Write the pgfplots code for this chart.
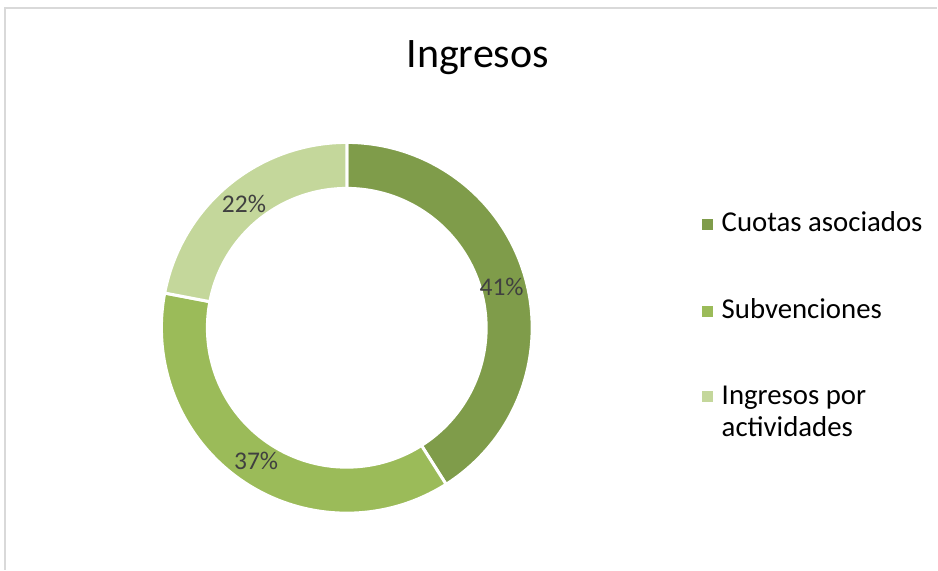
\documentclass[border=0pt]{standalone}
\usepackage{pgfplots}
\pgfplotsset{compat=1.18}
\usepackage{fontspec}
\setmainfont{Carlito}
\definecolor{cA}{HTML}{7F9C4A}
\definecolor{cB}{HTML}{9BBB59}
\definecolor{cC}{HTML}{C4D79B}
\definecolor{lbl}{HTML}{404040}
\definecolor{framec}{HTML}{D9D9D9}
% data (percent)
\def\vA{41}\def\vB{37}\def\vC{22}
\pgfmathsetmacro\aA{90}
\pgfmathsetmacro\aB{90-3.6*\vA}
\pgfmathsetmacro\aC{\aB-3.6*\vB}
\pgfmathsetmacro\aD{\aC-3.6*\vC}
\pgfmathsetmacro\mA{(\aA+\aB)/2}
\pgfmathsetmacro\mB{(\aB+\aC)/2}
\pgfmathsetmacro\mC{(\aC+\aD)/2}
\begin{document}
\begin{tikzpicture}
\path (0bp,0bp) rectangle (938bp,570bp);
\draw[framec, line width=1.2bp] (5bp,0bp) -- (5bp,562bp) -- (938bp,562bp);
\begin{axis}[at={(347bp,242bp)}, anchor=center, scale only axis,
  width=371bp, height=371bp, xmin=-1, xmax=1, ymin=-1, ymax=1,
  hide axis, clip=false]
\addplot[fill=cA, draw=white, line width=3bp, domain=\aB:\aA, samples=90, variable=\t] ({cos(\t)},{sin(\t)}) -- (axis cs:0,0) -- cycle;
\addplot[fill=cB, draw=white, line width=3bp, domain=\aC:\aB, samples=90, variable=\t] ({cos(\t)},{sin(\t)}) -- (axis cs:0,0) -- cycle;
\addplot[fill=cC, draw=white, line width=3bp, domain=\aD:\aC, samples=60, variable=\t] ({cos(\t)},{sin(\t)}) -- (axis cs:0,0) -- cycle;
\addplot[fill=white, draw=none, domain=0:360, samples=180, variable=\t] ({0.760*cos(\t)},{0.760*sin(\t)}) -- cycle;
\node[text=lbl, font=\fontsize{25.5bp}{30bp}\selectfont] at (axis cs:{0.87*cos(\mA)},{0.87*sin(\mA)-0.02}) {\vA\%};
\node[text=lbl, font=\fontsize{25.5bp}{30bp}\selectfont] at (axis cs:{0.87*cos(\mB)},{0.87*sin(\mB)}) {\vB\%};
\node[text=lbl, font=\fontsize{25.5bp}{30bp}\selectfont] at (axis cs:{0.87*cos(\mC)},{0.87*sin(\mC)}) {\vC\%};
\end{axis}
\node[anchor=base, inner sep=0pt, font=\fontsize{42bp}{50bp}\selectfont] at (478bp,502bp) {Ingresos};
% legend
\fill[cA] (702bp,339.5bp) rectangle (713bp,350.5bp);
\fill[cB] (702bp,253bp) rectangle (713bp,264bp);
\fill[cC] (702bp,167.5bp) rectangle (713bp,178.5bp);
\begin{scope}[every node/.style={anchor=base west, inner sep=0pt, font=\fontsize{28.8bp}{32bp}\selectfont}]
\node at (722bp,338bp) {Cuotas asociados};
\node at (722bp,251.5bp) {Subvenciones};
\node at (722bp,165bp) {Ingresos por};
\node at (722bp,133bp) {actividades};
\end{scope}
\end{tikzpicture}
\end{document}
